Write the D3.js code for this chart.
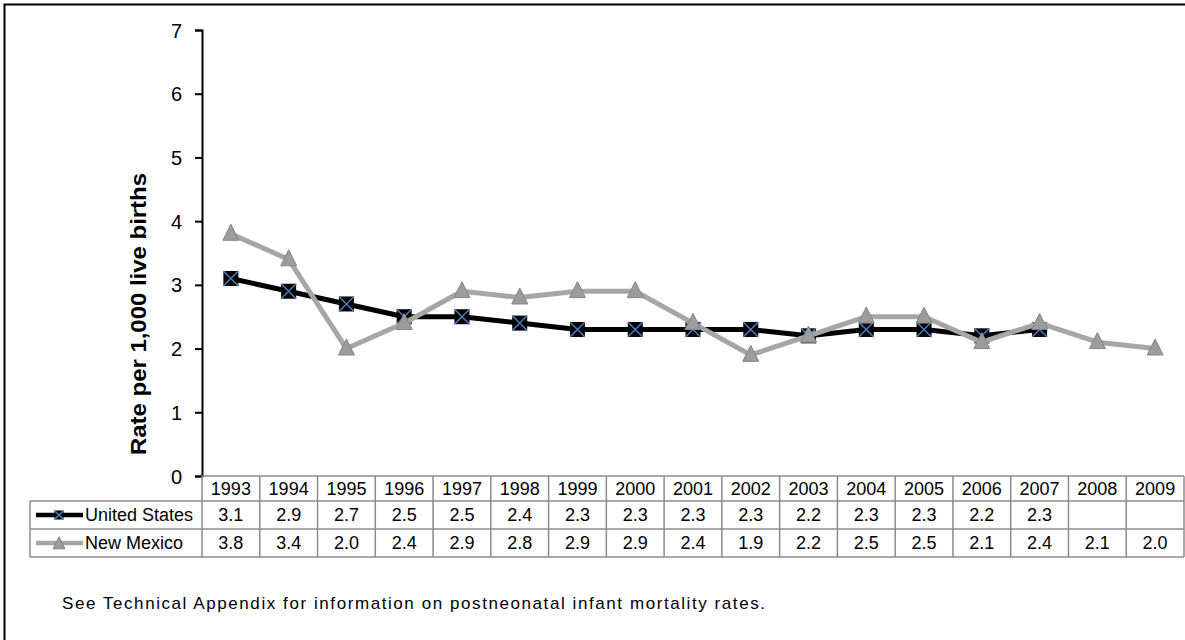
<!DOCTYPE html>
<html>
<head>
<meta charset="utf-8">
<script src="https://cdn.jsdelivr.net/npm/d3@7"></script>
<style>
    body { margin: 0; background: #fff; }
    svg { font-family: "Liberation Sans", Arial, sans-serif; }
    .axis path, .axis line { stroke: #000; stroke-width: 2; }
    .axis text { font-size: 20px; fill: #000; }
    .grid { stroke: #8c8c8c; stroke-width: 1.5; fill: none; }
    .cell-text { font-size: 18px; fill: #000; }
</style>
</head>
<body>
<svg id="chart" width="1185" height="640"></svg>
<script>
    // data
    const years = ['1993', '1994', '1995', '1996', '1997', '1998', '1999', '2000', '2001',
                   '2002', '2003', '2004', '2005', '2006', '2007', '2008', '2009'];
    const unitedStates = [3.1, 2.9, 2.7, 2.5, 2.5, 2.4, 2.3, 2.3, 2.3, 2.3, 2.2, 2.3, 2.3, 2.2, 2.3, null, null];
    const newMexico = [3.8, 3.4, 2.0, 2.4, 2.9, 2.8, 2.9, 2.9, 2.4, 1.9, 2.2, 2.5, 2.5, 2.1, 2.4, 2.1, 2.0];
    const yTicks = [0, 1, 2, 3, 4, 5, 6, 7];
    const seriesNames = ['United States', 'New Mexico'];

    const svg = d3.select('#chart');

    const plot = {left: 202, right: 1184, top: 30, bottom: 476};
    const rows = {header: 501, us: 529, nm: 557};
    const legendLeft = 30;

    let x = d3.scaleBand().domain(years).range([plot.left, plot.right]);
    let y = d3.scaleLinear().domain([0, 7]).range([plot.bottom, plot.top]);

    // outer frame (left and top edges only are visible)
    svg.append('path')
        .attr('d', 'M4.5,640 L4.5,4.5 L1185,4.5')
        .attr('fill', 'none')
        .attr('stroke', '#000')
        .attr('stroke-width', 2);

    // y axis
    svg.append('g')
        .attr('class', 'axis')
        .attr('transform', 'translate(' + plot.left + ',0)')
        .call(d3.axisLeft(y).tickValues(yTicks).tickFormat(d3.format('d')).tickSize(7).tickPadding(13).tickSizeOuter(7))
        .call(g => g.selectAll('text').attr('dy', '0.35em'));

    svg.append('text')
        .attr('transform', 'translate(146,455) rotate(-90)')
        .attr('font-size', 22)
        .attr('font-weight', 'bold')
        .attr('textLength', 282)
        .attr('lengthAdjust', 'spacingAndGlyphs')
        .text('Rate per 1,000 live births');

    // data table
    let table = svg.append('g');
    // horizontal lines
    table.append('line').attr('class', 'grid')
        .attr('x1', plot.left).attr('x2', plot.right).attr('y1', plot.bottom).attr('y2', plot.bottom)
        .attr('stroke', '#555');
    [rows.header, rows.us, rows.nm].forEach(function(ry) {
        table.append('line').attr('class', 'grid')
            .attr('x1', legendLeft).attr('x2', plot.right).attr('y1', ry).attr('y2', ry);
    });
    // vertical lines
    table.append('line').attr('class', 'grid')
        .attr('x1', legendLeft).attr('x2', legendLeft).attr('y1', rows.header).attr('y2', rows.nm);
    years.forEach(function(yr) {
        table.append('line').attr('class', 'grid')
            .attr('x1', x(yr)).attr('x2', x(yr)).attr('y1', plot.bottom).attr('y2', rows.nm);
    });
    table.append('line').attr('class', 'grid')
        .attr('x1', plot.right).attr('x2', plot.right).attr('y1', plot.bottom).attr('y2', rows.nm);

    const cx = d => x(d) + x.bandwidth() / 2;
    table.selectAll('.year-label').data(years).enter()
        .append('text').attr('class', 'cell-text')
        .attr('x', cx).attr('y', (plot.bottom + rows.header) / 2).attr('dy', '0.36em')
        .attr('text-anchor', 'middle').text(d => d);
    table.selectAll('.us-label').data(unitedStates).enter()
        .append('text').attr('class', 'cell-text')
        .attr('x', (d, i) => cx(years[i])).attr('y', (rows.header + rows.us) / 2).attr('dy', '0.36em')
        .attr('text-anchor', 'middle').text(d => d == null ? '' : d.toFixed(1));
    table.selectAll('.nm-label').data(newMexico).enter()
        .append('text').attr('class', 'cell-text')
        .attr('x', (d, i) => cx(years[i])).attr('y', (rows.us + rows.nm) / 2).attr('dy', '0.36em')
        .attr('text-anchor', 'middle').text(d => d.toFixed(1));

    // marker helpers
    function drawSquareX(g, px, py, s) {
        g.append('rect').attr('x', px - s / 2).attr('y', py - s / 2).attr('width', s).attr('height', s).attr('fill', '#000');
        g.append('path')
            .attr('d', 'M' + (px - s / 2) + ',' + (py - s / 2) + 'L' + (px + s / 2) + ',' + (py + s / 2) +
                       'M' + (px + s / 2) + ',' + (py - s / 2) + 'L' + (px - s / 2) + ',' + (py + s / 2))
            .attr('stroke', '#4a7ebb').attr('stroke-width', 1.5);
    }
    function drawTriangle(g, px, py, s) {
        g.append('path')
            .attr('d', 'M' + px + ',' + (py - s * 0.6) + 'L' + (px + s / 2) + ',' + (py + s * 0.4) + 'L' + (px - s / 2) + ',' + (py + s * 0.4) + 'Z')
            .attr('fill', '#9c9c9c').attr('stroke', '#858585').attr('stroke-width', 1);
    }

    // legend keys
    let legend = svg.append('g');
    const usMid = (rows.header + rows.us) / 2, nmMid = (rows.us + rows.nm) / 2;
    legend.append('line').attr('x1', 36).attr('x2', 83).attr('y1', usMid).attr('y2', usMid)
        .attr('stroke', '#000').attr('stroke-width', 4.5);
    drawSquareX(legend, 59, usMid, 9);
    legend.append('line').attr('x1', 36).attr('x2', 83).attr('y1', nmMid).attr('y2', nmMid)
        .attr('stroke', '#a6a6a6').attr('stroke-width', 4.5);
    drawTriangle(legend, 59, nmMid + 1, 12);
    legend.append('text').attr('class', 'cell-text').attr('x', 85).attr('y', usMid).attr('dy', '0.36em').text(seriesNames[0]);
    legend.append('text').attr('class', 'cell-text').attr('x', 85).attr('y', nmMid).attr('dy', '0.36em').text(seriesNames[1]);

    // lines
    let line = d3.line()
        .defined(d => d.v != null)
        .x(d => cx(d.year))
        .y(d => y(d.v));

    let usData = years.map((yr, i) => ({year: yr, v: unitedStates[i]}));
    let nmData = years.map((yr, i) => ({year: yr, v: newMexico[i]}));

    svg.append('path').datum(usData).attr('d', line)
        .attr('fill', 'none').attr('stroke', '#000').attr('stroke-width', 5).attr('stroke-linejoin', 'round');
    let usPoints = svg.append('g');
    usData.filter(d => d.v != null).forEach(d => drawSquareX(usPoints, cx(d.year), y(d.v), 15));

    svg.append('path').datum(nmData).attr('d', line)
        .attr('fill', 'none').attr('stroke', '#a6a6a6').attr('stroke-width', 5).attr('stroke-linejoin', 'round');
    let nmPoints = svg.append('g');
    nmData.forEach(d => drawTriangle(nmPoints, cx(d.year), y(d.v), 16));

    // footnote
    svg.append('text')
        .attr('x', 62).attr('y', 609)
        .attr('font-size', 17)
        .attr('textLength', 703)
        .attr('lengthAdjust', 'spacing')
        .text('See Technical Appendix for information on postneonatal infant mortality rates.');
</script>
</body>
</html>
